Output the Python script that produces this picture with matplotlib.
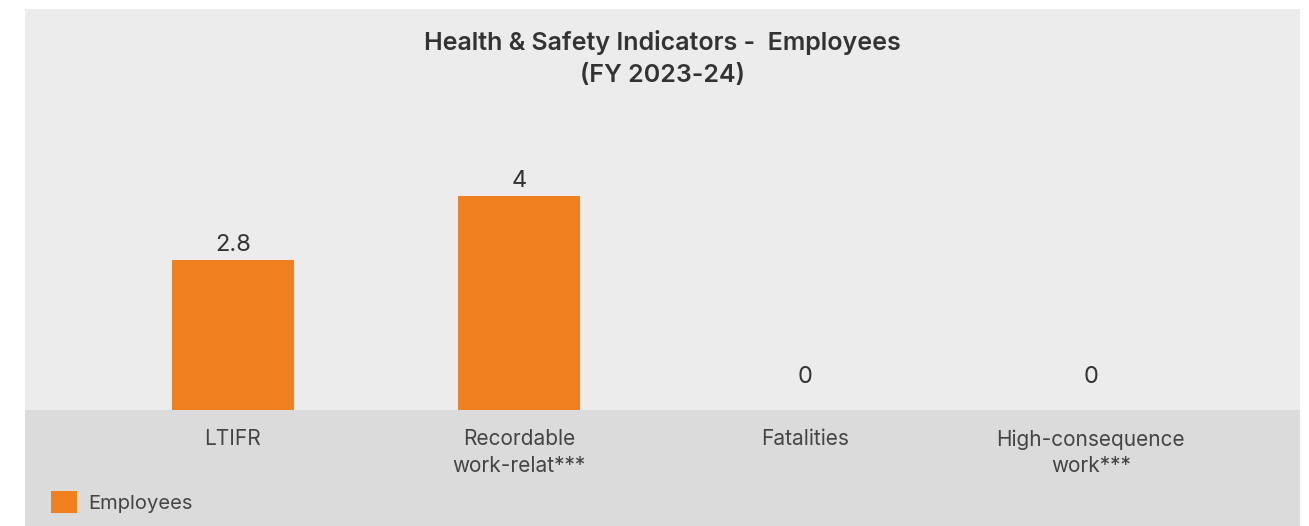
import matplotlib
matplotlib.use("Agg")
import matplotlib.pyplot as plt
from matplotlib.patches import Rectangle

categories = ["LTIFR", "Recordable\nwork-relat***", "Fatalities", "High-consequence\nwork***"]
values = [2.8, 4, 0, 0]
value_labels = ["2.8", "4", "0", "0"]
series_name = "Employees"
title = "Health & Safety Indicators -  Employees\n(FY 2023-24)"

W, H = 1309, 526
plt.rcParams['font.family'] = ['Inter', 'DejaVu Sans']
fig = plt.figure(figsize=(W / 100, H / 100), dpi=100)
fig.patch.set_facecolor("white")

px_l, px_r, px_t, px_base = 25, 1300, 9, 410
# panel backgrounds
fig.patches.append(Rectangle((px_l / W, 0), (px_r - px_l) / W, (H - px_t) / H,
                             transform=fig.transFigure, facecolor="#EBECEB", edgecolor="none", zorder=-10))
fig.patches.append(Rectangle((px_l / W, 0), (px_r - px_l) / W, (H - px_base) / H,
                             transform=fig.transFigure, facecolor="#DADBDA", edgecolor="none", zorder=-9))

ax = fig.add_axes([px_l / W, (H - px_base) / H, (px_r - px_l) / W, (px_base - px_t) / H])
ax.set_facecolor("none")
ax.set_zorder(1)
x = list(range(len(categories)))
orange = "#F0801E"
bars = ax.bar(x, values, width=0.427, color=orange, label=series_name, zorder=2)
ax.set_xlim(-0.727, 3.731)
ax.set_ylim(0, 7.5)
for s in ax.spines.values():
    s.set_visible(False)
ax.set_yticks([])
ax.set_xticks(x)
ax.set_xticklabels(categories, fontsize=15, color="#444444", linespacing=1.38)
ax.tick_params(axis="x", length=0, pad=14)

for xi, v, lab in zip(x, values, value_labels):
    off = 3 if v > 0 else 16
    ax.annotate(lab, (xi, v), xytext=(0, off), textcoords="offset points",
                ha="center", va="bottom", fontsize=17, color="#333333")

fig.text((px_l + px_r) / 2 / W, 1 - 30 / H, title, ha="center", va="top",
         fontsize=18, fontweight="semibold", color="#333333", linespacing=1.5)

leg = ax.legend(loc="center left", bbox_to_anchor=(51 / W, 1 - 502 / H),
                bbox_transform=fig.transFigure, frameon=False, fontsize=14.5,
                handlelength=1.3, handleheight=1.3, handletextpad=0.55,
                borderpad=0, borderaxespad=0)
for t in leg.get_texts():
    t.set_color("#444444")

fig.savefig("out.png", dpi=100, facecolor="white")
